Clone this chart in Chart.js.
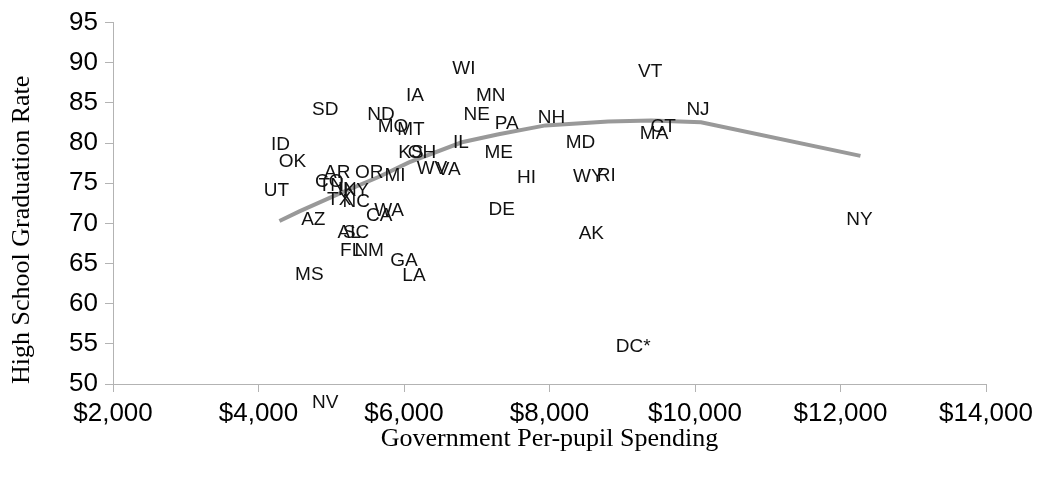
<!DOCTYPE html>
<html><head><meta charset="utf-8">
<script src="https://cdn.jsdelivr.net/npm/chart.js@4/dist/chart.umd.min.js"></script>
<style>html,body{margin:0;padding:0;background:#fff;overflow:hidden}#wrap{width:1039px;height:478px;position:relative}</style>
</head><body><div id="wrap"><canvas id="c"></canvas></div>
<script>
const states = ['WI','IA','MN','VT','SD','ND','NE','PA','NH','NJ','MO','MT','IL','ME','MD','CT','MA','KS','OH','WV','VA','MI','HI','WY','RI','DE','AK','DC*','NY','NV','ID','OK','UT','AR','OR','CO','TN','IN','KY','TX','NC','CA','WA','AZ','AL','SC','FL','NM','GA','LA','MS'];
const spending = [6822,6151,7192,9384,4918,5685,7000,7411,8027,10041,5849,6096,6781,7301,8425,9562,9438,6096,6247,6384,6616,5877,7685,8534,8781,7342,8575,9151,12260,4918,4301,4466,4247,5082,5521,4973,5000,5219,5342,5110,5342,5658,5795,4753,5247,5342,5274,5521,6000,6137,4699];
const gradRate = [89.5,86.1,86.1,89.1,84.3,83.7,83.7,82.6,83.3,84.4,82.2,81.9,80.2,79.0,80.2,82.2,81.3,79.0,79.0,77.0,76.9,76.1,75.9,76.0,76.1,71.9,68.9,54.8,70.7,47.8,80.0,77.9,74.2,76.5,76.5,75.4,74.9,74.4,74.3,73.1,72.9,71.2,71.8,70.6,69.0,69.0,66.8,66.8,65.5,63.7,63.8];
const trendSpending = [4288,4562,5110,5658,6068,6795,7301,7945,8808,9397,10082,12274];
const trendRate = [70.3,71.5,73.7,75.8,77.6,80.1,81.1,82.2,82.7,82.8,82.6,78.4];
const xTickValues = [2000,4000,6000,8000,10000,12000,14000];
const xTickLabels = ['$2,000','$4,000','$6,000','$8,000','$10,000','$12,000','$14,000'];
const yTickValues = [50,55,60,65,70,75,80,85,90,95];
const yTickLabels = ['50','55','60','65','70','75','80','85','90','95'];

const axisGrey = '#b3b3b3';
const stateLabels = {
  id: 'stateLabels',
  afterDatasetsDraw(chart) {
    const meta = chart.getDatasetMeta(1);
    const ctx = chart.ctx;
    ctx.save();
    ctx.font = '19px "Liberation Sans", Arial, sans-serif';
    ctx.fillStyle = '#111';
    ctx.textAlign = 'center';
    ctx.textBaseline = 'alphabetic';
    meta.data.forEach((pt, i) => { ctx.fillText(states[i], pt.x, pt.y + 6.8); });
    ctx.restore();
  }
};

new Chart(document.getElementById('c'), {
  type: 'scatter',
  data: {
    datasets: [
      {
        label: 'Trend',
        data: trendSpending.map((x, i) => ({x: x, y: trendRate[i]})),
        showLine: true,
        borderColor: '#999999',
        borderWidth: 4,
        pointRadius: 0,
        tension: 0,
        clip: false
      },
      {
        label: 'States',
        data: states.map((s, i) => ({x: spending[i], y: gradRate[i]})),
        pointRadius: 0,
        showLine: false,
        clip: false
      }
    ]
  },
  options: {
    responsive: true,
    maintainAspectRatio: false,
    animation: false,
    layout: {padding: {top: 19, right: 50, bottom: 0, left: 0}},
    plugins: {legend: {display: false}, tooltip: {enabled: false}},
    scales: {
      x: {
        type: 'linear', min: 2000, max: 14000,
        afterBuildTicks: s => { s.ticks = xTickValues.map(v => ({value: v})); },
        afterFit: s => { s.height = 94; },
        ticks: {callback: (v, i) => xTickLabels[i], font: {family: 'Liberation Sans', size: 26}, color: '#000', padding: 6, maxRotation: 0, autoSkip: false},
        grid: {display: true, drawOnChartArea: false, drawTicks: true, tickLength: 8, color: axisGrey},
        border: {display: true, color: axisGrey, width: 1},
        title: {display: true, text: 'Government Per-pupil Spending', font: {family: 'Liberation Serif', size: 26}, color: '#000', padding: {top: 0, bottom: 23}}
      },
      y: {
        type: 'linear', min: 50, max: 95,
        afterBuildTicks: s => { s.ticks = yTickValues.map(v => ({value: v})); },
        afterFit: s => { s.width = 113; },
        ticks: {callback: (v, i) => yTickLabels[i], font: {family: 'Liberation Sans', size: 26}, color: '#000', padding: 7, autoSkip: false},
        grid: {display: true, drawOnChartArea: false, drawTicks: true, tickLength: 8, color: axisGrey},
        border: {display: true, color: axisGrey, width: 1},
        title: {display: true, text: 'High School Graduation Rate', align: 'start', font: {family: 'Liberation Serif', size: 26}, color: '#000', padding: {top: 7, bottom: 0}}
      }
    }
  },
  plugins: [stateLabels]
});
</script>
</body></html>
